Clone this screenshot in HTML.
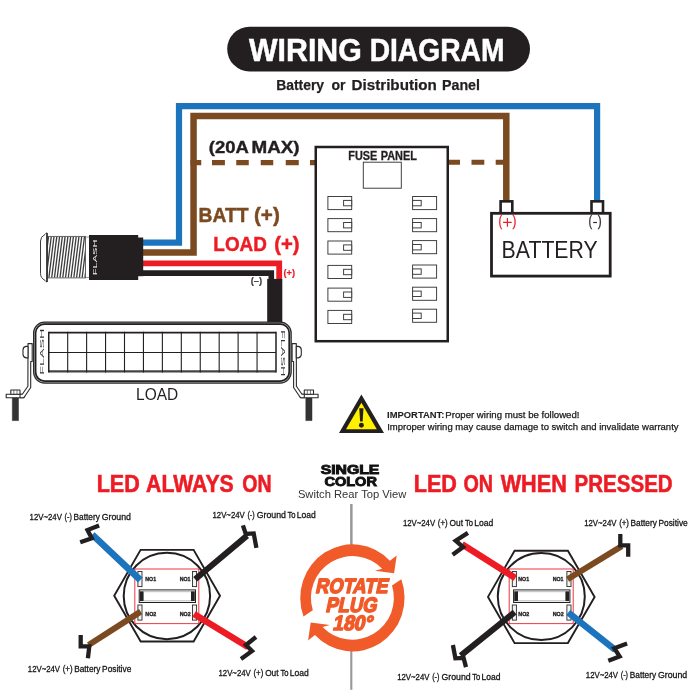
<!DOCTYPE html>
    <html><head><meta charset="utf-8">
    <style>
    html,body{margin:0;padding:0;background:#fff;}
    svg{display:block;will-change:transform;}
    text{font-family:"Liberation Sans",sans-serif;}
    .b{font-weight:bold;}
    </style></head><body>
    <svg width="700" height="700" viewBox="0 0 700 700">
    <rect width="700" height="700" fill="#fff"/>
    
<rect x="227.2" y="26.8" width="302.8" height="44.6" rx="22.3" fill="#231f20"/>
<text x="249.05" y="61.0" class="b" font-size="30.6" fill="#fff" textLength="112.67" lengthAdjust="spacingAndGlyphs" stroke="#fff" stroke-width="0.5" >WIRING</text>
<text x="369.66" y="61.0" class="b" font-size="30.6" fill="#fff" textLength="134.77" lengthAdjust="spacingAndGlyphs" stroke="#fff" stroke-width="0.5" >DIAGRAM</text>
<text x="276.14" y="89.5" class="b" font-size="14.5" fill="#231f20" textLength="47.91" lengthAdjust="spacingAndGlyphs" stroke="#231f20" stroke-width="0.25" >Battery</text>
<text x="331.38" y="89.5" class="b" font-size="14.5" fill="#231f20" textLength="14.02" lengthAdjust="spacingAndGlyphs" stroke="#231f20" stroke-width="0.25" >or</text>
<text x="351.54" y="89.5" class="b" font-size="14.5" fill="#231f20" textLength="85.23" lengthAdjust="spacingAndGlyphs" stroke="#231f20" stroke-width="0.25" >Distribution</text>
<text x="442.01" y="89.5" class="b" font-size="14.5" fill="#231f20" textLength="37.98" lengthAdjust="spacingAndGlyphs" stroke="#231f20" stroke-width="0.25" >Panel</text>
<g fill="none" stroke-linejoin="miter">
<path d="M143 242.7 H179 V106.1 H597.1 V201" stroke="#1c75bc" stroke-width="6.2"/>
<path d="M143 252.5 H193.55 V115.9 H506.3 V201" stroke="#7b4a21" stroke-width="6.5"/>
<path d="M190.5 162.6H201.25M212 162.6H224.9M236.25 162.6H248.75M260.75 162.6H273.25M285.75 162.6H298.75M310 162.6H316" stroke="#7b4a21" stroke-width="5.1"/>
<path d="M447.5 162.3H460M471.5 162.3H484.3M495.7 162.3H506" stroke="#7b4a21" stroke-width="5.1"/>
<path d="M143 263.3 H279.2 V279" stroke="#ed1c24" stroke-width="5.8"/>
<path d="M143 273.1 H271.3 V279" stroke="#231f20" stroke-width="5.6"/>
</g>
<rect x="267.2" y="278.9" width="15.1" height="43.5" fill="#231f20"/>
<text x="208.83" y="153.3" class="b" font-size="16.7" fill="#231f20" textLength="40.03" lengthAdjust="spacingAndGlyphs" stroke="#231f20" stroke-width="0.4" >(20A</text>
<text x="251.46" y="153.3" class="b" font-size="16.7" fill="#231f20" textLength="48.11" lengthAdjust="spacingAndGlyphs" stroke="#231f20" stroke-width="0.4" >MAX)</text>
<text x="198.58" y="222.4" class="b" font-size="19.8" fill="#7b4a21" textLength="50.02" lengthAdjust="spacingAndGlyphs" stroke="#7b4a21" stroke-width="0.45" >BATT</text>
<text x="254.0" y="222.4" class="b" font-size="19.8" fill="#7b4a21" textLength="25.81" lengthAdjust="spacingAndGlyphs" stroke="#7b4a21" stroke-width="0.45" >(+)</text>
<text x="213.37" y="250.8" class="b" font-size="19.8" fill="#ed1c24" textLength="53.46" lengthAdjust="spacingAndGlyphs" stroke="#ed1c24" stroke-width="0.45" >LOAD</text>
<text x="274.2" y="250.8" class="b" font-size="19.8" fill="#ed1c24" textLength="25.39" lengthAdjust="spacingAndGlyphs" stroke="#ed1c24" stroke-width="0.45" >(+)</text>
<text x="283.43" y="275.8" class="b" font-size="8.2" fill="#ed1c24" textLength="11.59" lengthAdjust="spacingAndGlyphs" stroke="#ed1c24" stroke-width="0.15" >(+)</text>
<text x="250.74" y="284.3" class="b" font-size="8.2" fill="#3a3a3a" textLength="11.52" lengthAdjust="spacingAndGlyphs" stroke="#3a3a3a" stroke-width="0.15" >(–)</text>
<g>
<rect x="85" y="237" width="4.5" height="40.5" fill="#fff" stroke="#777" stroke-width="0.7"/>
<rect x="47" y="236.4" width="38.5" height="41.5" fill="#fff" stroke="#555" stroke-width="0.9"/>
<clipPath id="hc"><rect x="47.4" y="236.8" width="37.7" height="40.7"/></clipPath>
<g clip-path="url(#hc)" stroke="#3c3c3c" stroke-width="1.3">
<path d="M40.55 278 L45.75 236.4"/>
<path d="M43.32 278 L48.52 236.4"/>
<path d="M46.09 278 L51.29 236.4"/>
<path d="M48.86 278 L54.06 236.4"/>
<path d="M51.63 278 L56.83 236.4"/>
<path d="M54.40 278 L59.60 236.4"/>
<path d="M57.17 278 L62.37 236.4"/>
<path d="M59.94 278 L65.14 236.4"/>
<path d="M62.71 278 L67.91 236.4"/>
<path d="M65.48 278 L70.68 236.4"/>
<path d="M68.25 278 L73.45 236.4"/>
<path d="M71.02 278 L76.22 236.4"/>
<path d="M73.79 278 L78.99 236.4"/>
<path d="M76.56 278 L81.76 236.4"/>
<path d="M79.33 278 L84.53 236.4"/>
<path d="M82.10 278 L87.30 236.4"/>
<path d="M84.87 278 L90.07 236.4"/>
<path d="M87.64 278 L92.84 236.4"/>
</g>
<path d="M47 232.9 Q46 232.9 45 234.4 Q40.5 236.8 40.5 241 V273.5 Q40.5 278 45 280.4 Q46 282 47 282 Z" fill="#fff" stroke="#3a3a3a" stroke-width="1"/>
<path d="M47 232.9V282" stroke="#2a2a2a" stroke-width="1.5"/>
<rect x="89" y="235" width="49.2" height="45" fill="#231f20"/>
<rect x="138" y="237.5" width="5.2" height="38.7" fill="#231f20"/>
<text transform="translate(97.2 275.2) rotate(-90)" font-size="5.7" fill="#fff" textLength="35.7" lengthAdjust="spacingAndGlyphs">FLASH</text>
</g>
<rect x="315.75" y="147" width="132" height="194.2" fill="#fff" stroke="#231f20" stroke-width="2.5"/>
<text x="348.29" y="159.6" class="b" font-size="12.1" fill="#231f20" textLength="28.92" lengthAdjust="spacingAndGlyphs" stroke="#231f20" stroke-width="0.3" >FUSE</text>
<text x="380.79" y="159.6" class="b" font-size="12.1" fill="#231f20" textLength="36.06" lengthAdjust="spacingAndGlyphs" stroke="#231f20" stroke-width="0.3" >PANEL</text>
<g fill="#fff" stroke="#383838" stroke-width="0.95">
<rect x="363.3" y="162.2" width="38" height="26"/>
<rect x="327.9" y="196.5" width="23.8" height="13.1"/>
<rect x="343.6" y="200.4" width="8.1" height="5.4"/>
<rect x="327.9" y="218.6" width="23.8" height="13.1"/>
<rect x="343.6" y="222.5" width="8.1" height="5.4"/>
<rect x="327.9" y="241" width="23.8" height="13.1"/>
<rect x="343.6" y="244.9" width="8.1" height="5.4"/>
<rect x="327.9" y="265.4" width="23.8" height="13.1"/>
<rect x="343.6" y="269.3" width="8.1" height="5.4"/>
<rect x="327.9" y="288.1" width="23.8" height="13.1"/>
<rect x="343.6" y="292.0" width="8.1" height="5.4"/>
<rect x="327.9" y="310.4" width="23.8" height="13.1"/>
<rect x="343.6" y="314.3" width="8.1" height="5.4"/>
<rect x="412.6" y="196.5" width="24" height="13.1"/>
<rect x="412.6" y="200.4" width="8.6" height="5.4"/>
<rect x="412.6" y="218.6" width="24" height="13.1"/>
<rect x="412.6" y="222.5" width="8.6" height="5.4"/>
<rect x="412.6" y="240.6" width="24" height="13.1"/>
<rect x="412.6" y="244.5" width="8.6" height="5.4"/>
<rect x="412.6" y="265" width="24" height="13.1"/>
<rect x="412.6" y="268.9" width="8.6" height="5.4"/>
<rect x="412.6" y="287.2" width="24" height="13.1"/>
<rect x="412.6" y="291.1" width="8.6" height="5.4"/>
<rect x="412.6" y="309.2" width="24" height="13.1"/>
<rect x="412.6" y="313.1" width="8.6" height="5.4"/>
</g>
<rect x="500.6" y="201.35" width="11.7" height="12" fill="#fff" stroke="#231f20" stroke-width="2.6"/>
<rect x="591.5" y="201.35" width="11.5" height="12" fill="#fff" stroke="#231f20" stroke-width="2.6"/>
<rect x="491.5" y="213.3" width="118.7" height="62.8" fill="#fff" stroke="#231f20" stroke-width="2.8"/>
<text x="498.45" y="226.1" font-size="13.9" fill="#ed1c24" textLength="3.63" lengthAdjust="spacingAndGlyphs" stroke="#ed1c24" stroke-width="0.3" >(</text>
<text x="512.4" y="226.1" font-size="13.9" fill="#ed1c24" textLength="3.85" lengthAdjust="spacingAndGlyphs" stroke="#ed1c24" stroke-width="0.3" >)</text>
<path d="M503.1 222.4H511.7M507.4 218.1V226.7" stroke="#ed1c24" stroke-width="1.15" fill="none"/>
<text x="588.45" y="226.1" font-size="13.9" fill="#333" textLength="3.63" lengthAdjust="spacingAndGlyphs" stroke="#333" stroke-width="0.3" >(</text>
<text x="597.8" y="226.1" font-size="13.9" fill="#333" textLength="3.96" lengthAdjust="spacingAndGlyphs" stroke="#333" stroke-width="0.3" >)</text>
<path d="M593.1 222.5H597" stroke="#333" stroke-width="1.2" fill="none"/>
<text x="501.61" y="257.7" font-size="24.7" fill="#231f20" textLength="96.1" lengthAdjust="spacingAndGlyphs" >BATTERY</text>
<g>
<g stroke="#2a2a2a" stroke-width="1.1" fill="#fff" stroke-linejoin="round">
<rect x="12.3" y="397.6" width="6.2" height="23" fill="#333" stroke="#333" stroke-width="0.5"/>
<rect x="6.2" y="394.2" width="17.6" height="3.6"/>
<rect x="10.8" y="390" width="9.2" height="4.2"/>
<path d="M13.8 390V394.2M17 390V394.2" stroke-width="0.6"/>
<path d="M28 343.6 H32.2 V361.5 H30.7 V387.5 L25 396 Q24.4 397.6 23 397.8 L20 397.8 L20 394.2 L22.3 394.2 L27.9 386.3 Z"/>
<path d="M28 346.4 H26 Q23 346.9 23 350 V354.3 Q23 357.4 26 357.9 H28 Z"/>
</g>
<g transform="translate(324.3 0) scale(-1 1)" stroke="#2a2a2a" stroke-width="1.1" fill="#fff" stroke-linejoin="round">
<rect x="12.3" y="397.6" width="6.2" height="23" fill="#333" stroke="#333" stroke-width="0.5"/>
<rect x="6.2" y="394.2" width="17.6" height="3.6"/>
<rect x="10.8" y="390" width="9.2" height="4.2"/>
<path d="M13.8 390V394.2M17 390V394.2" stroke-width="0.6"/>
<path d="M28 343.6 H32.2 V361.5 H30.7 V387.5 L25 396 Q24.4 397.6 23 397.8 L20 397.8 L20 394.2 L22.3 394.2 L27.9 386.3 Z"/>
<path d="M28 346.4 H26 Q23 346.9 23 350 V354.3 Q23 357.4 26 357.9 H28 Z"/>
</g>
<rect x="33.6" y="322.1" width="257.6" height="61" rx="11" fill="#b4b4b4" stroke="#2a2a2a" stroke-width="1.2"/>
<rect x="35.6" y="324.1" width="253.6" height="57" rx="9" fill="#fff" stroke="#231f20" stroke-width="1.7"/>
<g stroke="#231f20" fill="none">
<path d="M48.75 332.6H276.0" stroke-width="1.9"/>
<path d="M48.75 352.5H276.0" stroke-width="1.1"/>
<path d="M48.75 371.40000000000003H276.0" stroke-width="2.3" stroke="#444"/>
<path d="M48.75 331.70000000000005V372.40000000000003" stroke-width="1.5"/>
<path d="M67.69 331.70000000000005V372.40000000000003" stroke-width="1.1"/>
<path d="M86.62 331.70000000000005V372.40000000000003" stroke-width="1.1"/>
<path d="M105.56 331.70000000000005V372.40000000000003" stroke-width="1.1"/>
<path d="M124.50 331.70000000000005V372.40000000000003" stroke-width="1.1"/>
<path d="M143.44 331.70000000000005V372.40000000000003" stroke-width="1.1"/>
<path d="M162.38 331.70000000000005V372.40000000000003" stroke-width="1.1"/>
<path d="M181.31 331.70000000000005V372.40000000000003" stroke-width="1.1"/>
<path d="M200.25 331.70000000000005V372.40000000000003" stroke-width="1.1"/>
<path d="M219.19 331.70000000000005V372.40000000000003" stroke-width="1.1"/>
<path d="M238.12 331.70000000000005V372.40000000000003" stroke-width="1.1"/>
<path d="M257.06 331.70000000000005V372.40000000000003" stroke-width="1.1"/>
<path d="M276.00 331.70000000000005V372.40000000000003" stroke-width="1.5"/>
</g>
<text transform="translate(44.2 374.8) rotate(-90)" font-size="6.1" fill="#333" textLength="46.2" lengthAdjust="spacingAndGlyphs">FLASH</text>
<text transform="translate(281 329.9) rotate(90)" font-size="6.1" fill="#333" textLength="46.6" lengthAdjust="spacingAndGlyphs">FLASH</text>
</g>
<text x="136.08" y="399.5" font-size="15.7" fill="#231f20" textLength="42.11" lengthAdjust="spacingAndGlyphs" >LOAD</text>
<path d="M361.4 394.6 L384 432.9 H339 Z" fill="#231f20"/>
<path d="M361.4 402.8 L376.8 429.3 H346 Z" fill="#fff200"/>
<path d="M359.3 408.2 H363.5 L362.7 421.6 H360.1 Z" fill="#231f20"/>
<circle cx="361.4" cy="425.2" r="2.45" fill="#231f20"/>
<text x="387.09" y="417.7" class="b" font-size="9.3" fill="#231f20" textLength="57.28" lengthAdjust="spacingAndGlyphs" stroke="#231f20" stroke-width="0.1" >IMPORTANT:</text>
<text x="445.34" y="417.7" font-size="9.2" fill="#1a1a1a" textLength="134.17" lengthAdjust="spacingAndGlyphs" stroke="#1a1a1a" stroke-width="0.25" >Proper wiring must be followed!</text>
<text x="387.15" y="429.8" font-size="9.2" fill="#1a1a1a" textLength="291.4" lengthAdjust="spacingAndGlyphs" stroke="#1a1a1a" stroke-width="0.25" >Improper wiring may cause damage to switch and invalidate warranty</text>
<text x="96.69" y="492.3" class="b" font-size="23.2" fill="#ed1c24" textLength="43.1" lengthAdjust="spacingAndGlyphs" stroke="#ed1c24" stroke-width="0.55" >LED</text>
<text x="146.05" y="492.3" class="b" font-size="23.2" fill="#ed1c24" textLength="87.76" lengthAdjust="spacingAndGlyphs" stroke="#ed1c24" stroke-width="0.55" >ALWAYS</text>
<text x="242.37" y="492.3" class="b" font-size="23.2" fill="#ed1c24" textLength="29.23" lengthAdjust="spacingAndGlyphs" stroke="#ed1c24" stroke-width="0.55" >ON</text>
<text x="413.69" y="491.8" class="b" font-size="23.2" fill="#ed1c24" textLength="43.18" lengthAdjust="spacingAndGlyphs" stroke="#ed1c24" stroke-width="0.55" >LED</text>
<text x="463.47" y="491.8" class="b" font-size="23.2" fill="#ed1c24" textLength="29.58" lengthAdjust="spacingAndGlyphs" stroke="#ed1c24" stroke-width="0.55" >ON</text>
<text x="500.65" y="491.8" class="b" font-size="23.2" fill="#ed1c24" textLength="66.16" lengthAdjust="spacingAndGlyphs" stroke="#ed1c24" stroke-width="0.55" >WHEN</text>
<text x="574.58" y="491.8" class="b" font-size="23.2" fill="#ed1c24" textLength="98.08" lengthAdjust="spacingAndGlyphs" stroke="#ed1c24" stroke-width="0.55" >PRESSED</text>
<text x="320.65" y="474" class="b" font-size="12.1" fill="#111" textLength="58.75" lengthAdjust="spacingAndGlyphs" stroke="#111" stroke-width="0.85" >SINGLE</text>
<text x="324.4" y="486.4" class="b" font-size="12.1" fill="#111" textLength="52.5" lengthAdjust="spacingAndGlyphs" stroke="#111" stroke-width="0.85" >COLOR</text>
<text x="297.9" y="497.7" font-size="11.8" fill="#333" textLength="108.5" lengthAdjust="spacingAndGlyphs" >Switch Rear Top View</text>
<path d="M351.35 504V546" stroke="#98989c" stroke-width="2.5"/>
<path d="M351.3 650V689.8" stroke="#98989c" stroke-width="2.1"/>
<path d="M303.49 616.48 A52.15 53.55 0 0 1 389.91 560.70 L396.7 555.4 L394.1 573.3 L374.9 570.7 L382.25 568.86 A41.5 41.8 0 0 0 312.78 610.33 Z" fill="#f15a29"/>
<path d="M303.49 616.48 A52.15 53.55 0 0 1 389.91 560.70 L396.7 555.4 L394.1 573.3 L374.9 570.7 L382.25 568.86 A41.5 41.8 0 0 0 312.78 610.33 Z" fill="#f15a29" transform="rotate(180 352.4 597.9)"/>
<text transform="translate(315 592.7) skewX(-12)" class="b" font-size="20.6" fill="#f15a29" stroke="#f15a29" stroke-width="1.5" stroke-linejoin="round" textLength="72.4" lengthAdjust="spacingAndGlyphs">ROTATE</text>
<text transform="translate(325.2 611.5) skewX(-12)" class="b" font-size="20.6" fill="#f15a29" stroke="#f15a29" stroke-width="1.5" stroke-linejoin="round" textLength="51" lengthAdjust="spacingAndGlyphs">PLUG</text>
<text transform="translate(332.2 630.1) skewX(-12)" class="b" font-size="20.6" fill="#f15a29" stroke="#f15a29" stroke-width="1.5" stroke-linejoin="round" textLength="39.8" lengthAdjust="spacingAndGlyphs">180°</text>
<g>
<polygon points="220.0,595.7 193.6,641.5 140.7,641.5 114.2,595.7 140.6,549.9 193.6,549.9" fill="#fff" stroke="#231f20" stroke-width="1.9"/>
<circle cx="166.9" cy="596.0" r="43.2" fill="#fff" stroke="#231f20" stroke-width="2"/>
<rect x="134.8" y="569.0" width="64" height="54.6" fill="none" stroke="#ee3f4a" stroke-width="1.05"/>
<rect x="137.9" y="571.5" width="4.1" height="15.1" fill="#f4f4f4" stroke="#2a2a2a" stroke-width="0.9"/>
<rect x="137.9" y="605.0" width="4.1" height="15.1" fill="#f4f4f4" stroke="#2a2a2a" stroke-width="0.9"/>
<rect x="192.5" y="571.5" width="4.1" height="15.1" fill="#f4f4f4" stroke="#2a2a2a" stroke-width="0.9"/>
<rect x="192.5" y="605.0" width="4.1" height="15.1" fill="#f4f4f4" stroke="#2a2a2a" stroke-width="0.9"/>
<rect x="139.2" y="589.9" width="56.3" height="12.6" fill="#fff" stroke="#231f20" stroke-width="1.0"/>
<rect x="139.8" y="591.3" width="3.8" height="9.8" fill="#222"/>
<rect x="191.0" y="591.3" width="3.8" height="9.8" fill="#222"/>
<path d="M143.6 591.7H191.0M143.6 600.8H191.0" stroke="#777" stroke-width="0.5"/>
<text x="145.35" y="581.0" class="b" font-size="5.8" fill="#231f20" textLength="10.7" lengthAdjust="spacingAndGlyphs" stroke="#231f20" stroke-width="0.35" >NO1</text>
<text x="179.75" y="581.0" class="b" font-size="5.8" fill="#231f20" textLength="10.7" lengthAdjust="spacingAndGlyphs" stroke="#231f20" stroke-width="0.35" >NO1</text>
<text x="145.34" y="615.9" class="b" font-size="5.8" fill="#231f20" textLength="10.96" lengthAdjust="spacingAndGlyphs" stroke="#231f20" stroke-width="0.35" >NO2</text>
<text x="179.74" y="615.9" class="b" font-size="5.8" fill="#231f20" textLength="10.96" lengthAdjust="spacingAndGlyphs" stroke="#231f20" stroke-width="0.35" >NO2</text>
</g>
<path d="M140.3 580.0L92.3 534.6" stroke="#1c75bc" stroke-width="6.7" fill="none"/>
<path d="M99.1 525.5 L87.5 530.1 L91.8 538.2 L80.2 542.2" stroke="#231f20" stroke-width="4.3" fill="none" stroke-linejoin="miter"/>
<path d="M195.2 579.2L247.1 535.6" stroke="#231f20" stroke-width="6.0" fill="none"/>
<path d="M242.9 525.4 L245.8 533.9 L253.7 533.4 L256.4 547.8" stroke="#231f20" stroke-width="4.3" fill="none" stroke-linejoin="miter"/>
<path d="M140.7 611.6L88.6 645" stroke="#7b4a21" stroke-width="6.0" fill="none"/>
<path d="M80.7 635 L80.7 646.4 L89.3 646.4 L87.9 658.3" stroke="#231f20" stroke-width="4.3" fill="none" stroke-linejoin="miter"/>
<path d="M194 614L248 647" stroke="#ed1c24" stroke-width="6.5" fill="none"/>
<path d="M256 637 L246 645 L252 651 L241 659" stroke="#231f20" stroke-width="4.3" fill="none" stroke-linejoin="miter"/>
<text x="29.6" y="519.7" font-size="9.2" fill="#151515" textLength="32.25" lengthAdjust="spacingAndGlyphs" stroke="#151515" stroke-width="0.3" >12V~24V</text>
<text x="64.53" y="519.7" font-size="9.2" fill="#151515" textLength="7.32" lengthAdjust="spacingAndGlyphs" stroke="#151515" stroke-width="0.3" >(-)</text>
<text x="73.6" y="519.7" font-size="9.2" fill="#151515" textLength="26.25" lengthAdjust="spacingAndGlyphs" stroke="#151515" stroke-width="0.3" >Battery</text>
<text x="101.74" y="519.7" font-size="9.2" fill="#151515" textLength="29.21" lengthAdjust="spacingAndGlyphs" stroke="#151515" stroke-width="0.3" >Ground</text>
<text x="212.5" y="518.2" font-size="9.2" fill="#151515" textLength="32.25" lengthAdjust="spacingAndGlyphs" stroke="#151515" stroke-width="0.3" >12V~24V</text>
<text x="247.43" y="518.2" font-size="9.2" fill="#151515" textLength="7.32" lengthAdjust="spacingAndGlyphs" stroke="#151515" stroke-width="0.3" >(-)</text>
<text x="256.74" y="518.2" font-size="9.2" fill="#151515" textLength="29.21" lengthAdjust="spacingAndGlyphs" stroke="#151515" stroke-width="0.3" >Ground</text>
<text x="287.5" y="518.2" font-size="9.2" fill="#151515" textLength="8.05" lengthAdjust="spacingAndGlyphs" stroke="#151515" stroke-width="0.3" >To</text>
<text x="296.78" y="518.2" font-size="9.2" fill="#151515" textLength="18.99" lengthAdjust="spacingAndGlyphs" stroke="#151515" stroke-width="0.3" >Load</text>
<text x="27.8" y="672.0" font-size="9.2" fill="#151515" textLength="32.25" lengthAdjust="spacingAndGlyphs" stroke="#151515" stroke-width="0.3" >12V~24V</text>
<text x="62.73" y="672.0" font-size="9.2" fill="#151515" textLength="9.88" lengthAdjust="spacingAndGlyphs" stroke="#151515" stroke-width="0.3" >(+)</text>
<text x="74.2" y="672.0" font-size="9.2" fill="#151515" textLength="26.25" lengthAdjust="spacingAndGlyphs" stroke="#151515" stroke-width="0.3" >Battery</text>
<text x="102.09" y="672.0" font-size="9.2" fill="#151515" textLength="29.21" lengthAdjust="spacingAndGlyphs" stroke="#151515" stroke-width="0.3" >Positive</text>
<text x="218.5" y="675.6" font-size="9.2" fill="#151515" textLength="32.25" lengthAdjust="spacingAndGlyphs" stroke="#151515" stroke-width="0.3" >12V~24V</text>
<text x="253.43" y="675.6" font-size="9.2" fill="#151515" textLength="9.88" lengthAdjust="spacingAndGlyphs" stroke="#151515" stroke-width="0.3" >(+)</text>
<text x="265.15" y="675.6" font-size="9.2" fill="#151515" textLength="13.4" lengthAdjust="spacingAndGlyphs" stroke="#151515" stroke-width="0.3" >Out</text>
<text x="280.5" y="675.6" font-size="9.2" fill="#151515" textLength="8.05" lengthAdjust="spacingAndGlyphs" stroke="#151515" stroke-width="0.3" >To</text>
<text x="289.78" y="675.6" font-size="9.2" fill="#151515" textLength="18.99" lengthAdjust="spacingAndGlyphs" stroke="#151515" stroke-width="0.3" >Load</text>
<g>
<polygon points="594.6,596.9 567.9,643.1 514.6,643.1 488.0,596.9 514.6,550.7 567.9,550.7" fill="#fff" stroke="#231f20" stroke-width="1.9"/>
<circle cx="541.3" cy="596.6" r="43.5" fill="#fff" stroke="#231f20" stroke-width="2"/>
<rect x="509.20000000000005" y="569.0" width="64" height="54.6" fill="none" stroke="#ee3f4a" stroke-width="1.05"/>
<rect x="512.3" y="571.5" width="4.1" height="15.1" fill="#f4f4f4" stroke="#2a2a2a" stroke-width="0.9"/>
<rect x="512.3" y="605.0" width="4.1" height="15.1" fill="#f4f4f4" stroke="#2a2a2a" stroke-width="0.9"/>
<rect x="566.9" y="571.5" width="4.1" height="15.1" fill="#f4f4f4" stroke="#2a2a2a" stroke-width="0.9"/>
<rect x="566.9" y="605.0" width="4.1" height="15.1" fill="#f4f4f4" stroke="#2a2a2a" stroke-width="0.9"/>
<rect x="513.6" y="589.9" width="56.3" height="12.6" fill="#fff" stroke="#231f20" stroke-width="1.0"/>
<rect x="514.2" y="591.3" width="3.8" height="9.8" fill="#222"/>
<rect x="565.4" y="591.3" width="3.8" height="9.8" fill="#222"/>
<path d="M518.0 591.7H565.4M518.0 600.8H565.4" stroke="#777" stroke-width="0.5"/>
<text x="518.35" y="581.0" class="b" font-size="5.8" fill="#231f20" textLength="10.7" lengthAdjust="spacingAndGlyphs" stroke="#231f20" stroke-width="0.35" >NO1</text>
<text x="552.75" y="581.0" class="b" font-size="5.8" fill="#231f20" textLength="10.7" lengthAdjust="spacingAndGlyphs" stroke="#231f20" stroke-width="0.35" >NO1</text>
<text x="518.34" y="615.9" class="b" font-size="5.8" fill="#231f20" textLength="10.96" lengthAdjust="spacingAndGlyphs" stroke="#231f20" stroke-width="0.35" >NO2</text>
<text x="552.74" y="615.9" class="b" font-size="5.8" fill="#231f20" textLength="10.96" lengthAdjust="spacingAndGlyphs" stroke="#231f20" stroke-width="0.35" >NO2</text>
</g>
<path d="M515.3 577.9L462.1 544.3" stroke="#ed1c24" stroke-width="6.5" fill="none"/>
<path d="M467.9 532.9 L455.7 540.7 L463.1 547.1 L452.6 554.7" stroke="#231f20" stroke-width="4.3" fill="none" stroke-linejoin="miter"/>
<path d="M567.6 579.2L621.8 546.1" stroke="#7b4a21" stroke-width="6.0" fill="none"/>
<path d="M620.3 533.9 L620.3 545.4 L628.2 545.4 L628.2 556.8" stroke="#231f20" stroke-width="4.3" fill="none" stroke-linejoin="miter"/>
<path d="M514.6 612.2L460.7 655.7" stroke="#231f20" stroke-width="6.0" fill="none"/>
<path d="M452.9 645 L455.4 658.3 L463.6 657.9 L466 667.1" stroke="#231f20" stroke-width="4.3" fill="none" stroke-linejoin="miter"/>
<path d="M568.2 612.5L615.4 650" stroke="#1c75bc" stroke-width="6.7" fill="none"/>
<path d="M627.1 643.6 L614.3 648.3 L619.6 656.4 L608.3 660.7" stroke="#231f20" stroke-width="4.3" fill="none" stroke-linejoin="miter"/>
<text x="402.9" y="525.7" font-size="9.2" fill="#151515" textLength="32.25" lengthAdjust="spacingAndGlyphs" stroke="#151515" stroke-width="0.3" >12V~24V</text>
<text x="437.83" y="525.7" font-size="9.2" fill="#151515" textLength="9.88" lengthAdjust="spacingAndGlyphs" stroke="#151515" stroke-width="0.3" >(+)</text>
<text x="449.55" y="525.7" font-size="9.2" fill="#151515" textLength="13.4" lengthAdjust="spacingAndGlyphs" stroke="#151515" stroke-width="0.3" >Out</text>
<text x="464.9" y="525.7" font-size="9.2" fill="#151515" textLength="8.05" lengthAdjust="spacingAndGlyphs" stroke="#151515" stroke-width="0.3" >To</text>
<text x="474.18" y="525.7" font-size="9.2" fill="#151515" textLength="18.99" lengthAdjust="spacingAndGlyphs" stroke="#151515" stroke-width="0.3" >Load</text>
<text x="584.2" y="525.8" font-size="9.2" fill="#151515" textLength="32.25" lengthAdjust="spacingAndGlyphs" stroke="#151515" stroke-width="0.3" >12V~24V</text>
<text x="619.13" y="525.8" font-size="9.2" fill="#151515" textLength="9.88" lengthAdjust="spacingAndGlyphs" stroke="#151515" stroke-width="0.3" >(+)</text>
<text x="630.6" y="525.8" font-size="9.2" fill="#151515" textLength="26.25" lengthAdjust="spacingAndGlyphs" stroke="#151515" stroke-width="0.3" >Battery</text>
<text x="658.49" y="525.8" font-size="9.2" fill="#151515" textLength="29.21" lengthAdjust="spacingAndGlyphs" stroke="#151515" stroke-width="0.3" >Positive</text>
<text x="397.2" y="680.2" font-size="9.2" fill="#151515" textLength="32.25" lengthAdjust="spacingAndGlyphs" stroke="#151515" stroke-width="0.3" >12V~24V</text>
<text x="432.13" y="680.2" font-size="9.2" fill="#151515" textLength="7.32" lengthAdjust="spacingAndGlyphs" stroke="#151515" stroke-width="0.3" >(-)</text>
<text x="441.44" y="680.2" font-size="9.2" fill="#151515" textLength="29.21" lengthAdjust="spacingAndGlyphs" stroke="#151515" stroke-width="0.3" >Ground</text>
<text x="472.2" y="680.2" font-size="9.2" fill="#151515" textLength="8.05" lengthAdjust="spacingAndGlyphs" stroke="#151515" stroke-width="0.3" >To</text>
<text x="481.48" y="680.2" font-size="9.2" fill="#151515" textLength="18.99" lengthAdjust="spacingAndGlyphs" stroke="#151515" stroke-width="0.3" >Load</text>
<text x="585.8" y="677.7" font-size="9.2" fill="#151515" textLength="32.25" lengthAdjust="spacingAndGlyphs" stroke="#151515" stroke-width="0.3" >12V~24V</text>
<text x="620.73" y="677.7" font-size="9.2" fill="#151515" textLength="7.32" lengthAdjust="spacingAndGlyphs" stroke="#151515" stroke-width="0.3" >(-)</text>
<text x="629.8" y="677.7" font-size="9.2" fill="#151515" textLength="26.25" lengthAdjust="spacingAndGlyphs" stroke="#151515" stroke-width="0.3" >Battery</text>
<text x="657.94" y="677.7" font-size="9.2" fill="#151515" textLength="29.21" lengthAdjust="spacingAndGlyphs" stroke="#151515" stroke-width="0.3" >Ground</text>
</svg>
</body></html>
